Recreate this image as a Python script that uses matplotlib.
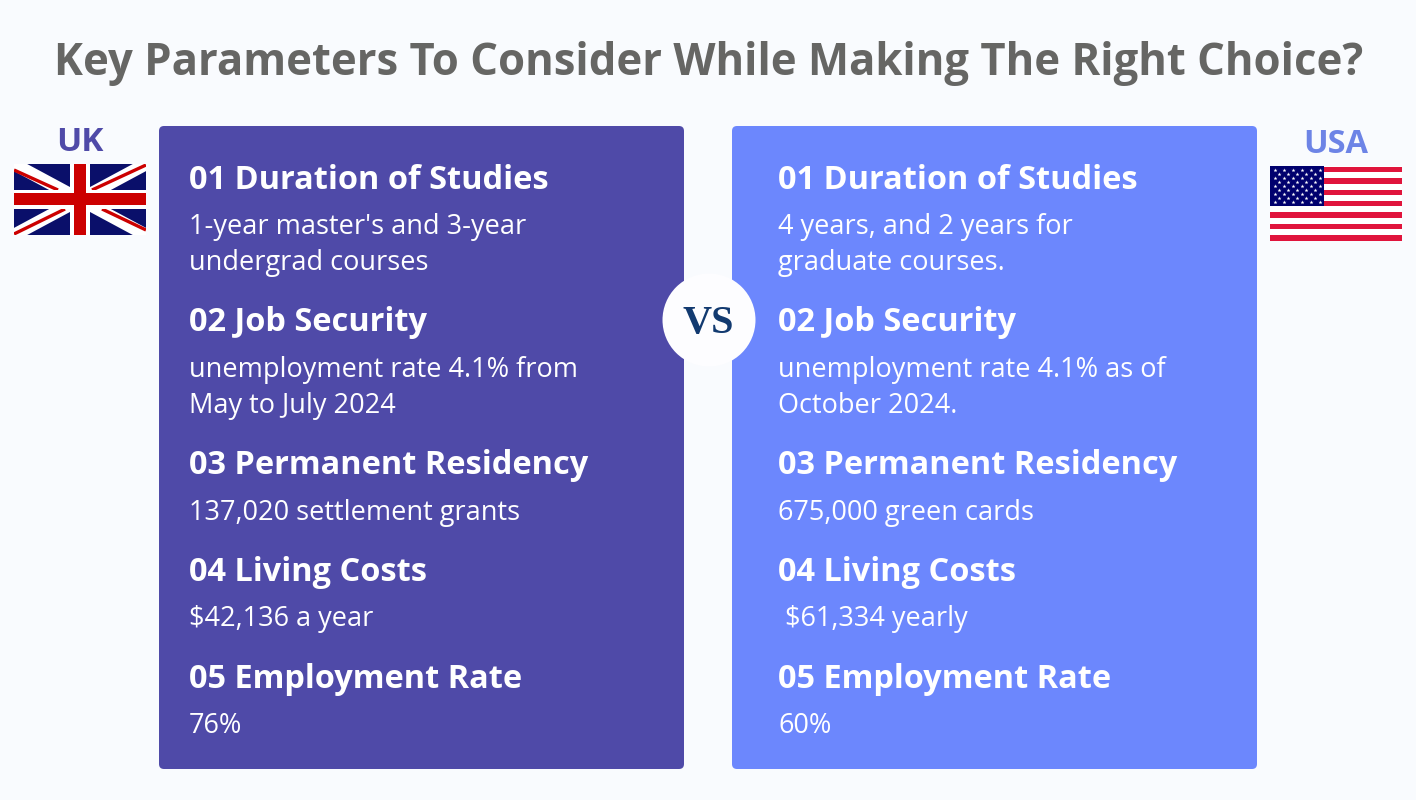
import matplotlib
matplotlib.use("Agg")
import matplotlib.pyplot as plt
from matplotlib.patches import Circle, FancyBboxPatch, Rectangle

title = "Key Parameters To Consider While Making The Right Choice?"
headings = ["01 Duration of Studies", "02 Job Security", "03 Permanent Residency",
            "04 Living Costs", "05 Employment Rate"]
uk_details = ["1-year master's and 3-year\nundergrad courses",
              "unemployment rate 4.1% from\nMay to July 2024",
              "137,020 settlement grants",
              "$42,136 a year",
              "76%"]
usa_details = ["4 years, and 2 years for\ngraduate courses.",
               "unemployment rate 4.1% as of\nOctober 2024.",
               "675,000 green cards",
               " $61,334 yearly",
               "60%"]

# baseline of each block, in pixels from the top
heading_y = [189, 331, 474, 581, 688]
detail_y = [234, 377, 520, 626, 733]
line_gap = 36

BG = "#f9fbfe"
UK_COL = "#4f4aa8"
USA_COL = "#6c87fd"
NAVY = "#0a0f6a"
RED = "#cc0000"

plt.rcParams["font.family"] = ["Open Sans", "DejaVu Sans"]

fig = plt.figure(figsize=(14.16, 8), dpi=100, facecolor=BG)
ax = fig.add_axes([0, 0, 1, 1])
ax.set_xlim(0, 1416)
ax.set_ylim(800, 0)
ax.axis("off")

ax.text(708.5, 75, title, ha="center", va="baseline", fontsize=31.45, fontweight="bold", color="#666664")


def panel(x0, x1, col, text_x, details):
    ax.add_patch(FancyBboxPatch((x0 + 5, 131), x1 - x0 - 10, 633, boxstyle="round,pad=5,rounding_size=5",
                                fc=col, ec="none"))
    for i in range(len(headings)):
        ax.text(text_x, heading_y[i], headings[i], ha="left", va="baseline", fontsize=23.45,
                fontweight="bold", color="white")
        # two line details are placed line by line so the gap stays fixed
        for j, line in enumerate(details[i].split("\n")):
            ax.text(text_x, detail_y[i] + j * line_gap, line, ha="left", va="baseline", fontsize=19.5,
                    color="white")


panel(159, 684, UK_COL, 189, uk_details)
panel(732, 1257, USA_COL, 778, usa_details)

# VS badge
ax.add_patch(Circle((709, 320), 46.5, fc="#fdfdff", ec="none", zorder=5))
ax.text(708.5, 333, "VS", ha="center", va="baseline", fontsize=29, fontweight="bold",
        family="Liberation Serif", color="#123a70", zorder=6)

# country labels
ax.text(80, 151, "UK", ha="center", va="baseline", fontsize=24, fontweight="bold", color=UK_COL)
ax.text(1335.5, 153, "USA", ha="center", va="baseline", fontsize=23.5, fontweight="bold", color="#6d84e6")

# UK flag
ax.add_patch(Rectangle((14, 164), 132, 71, fc=NAVY, ec="none", zorder=2))
clip = Rectangle((14, 164), 132, 71, transform=ax.transData)
for pts in [[(14, 164), (146, 235)], [(14, 235), (146, 164)]]:
    ln, = ax.plot(*zip(*pts), color="white", lw=9, solid_capstyle="projecting", zorder=3)
    ln.set_clip_path(clip)
for pts in [[(14, 170), (58, 190)], [(146, 230), (102, 209)], [(14, 234), (65, 209)], [(146, 165), (92, 190)]]:
    ln, = ax.plot(*zip(*pts), color=RED, lw=2.4, solid_capstyle="butt", zorder=4)
    ln.set_clip_path(clip)
ax.add_patch(Rectangle((14, 190), 132, 19, fc="white", ec="none", zorder=5))
ax.add_patch(Rectangle((70, 164), 20, 71, fc="white", ec="none", zorder=5))
ax.add_patch(Rectangle((14, 193), 132, 12, fc=RED, ec="none", zorder=6))
ax.add_patch(Rectangle((74, 164), 11.5, 71, fc=RED, ec="none", zorder=6))

# USA flag
ax.add_patch(Rectangle((1270, 166), 132, 75, fc="white", ec="none", zorder=2))
for k in range(7):
    ax.add_patch(Rectangle((1270, 166.7 + k * 11.4), 132, 5.4, fc="#e0143c", ec="none", zorder=3))
ax.add_patch(Rectangle((1270, 166), 54, 40, fc="#00006e", ec="none", zorder=4))
star_x = []
star_y = []
for r in range(9):
    n = 6 if r % 2 == 0 else 5
    for c in range(n):
        star_x.append(1274.5 + c * 9 + (0 if r % 2 == 0 else 4.5))
        star_y.append(169.5 + r * 4.1)
ax.scatter(star_x, star_y, marker="*", s=9, c="white", linewidths=0, zorder=5)

fig.savefig("out.png", dpi=100, facecolor=BG)
